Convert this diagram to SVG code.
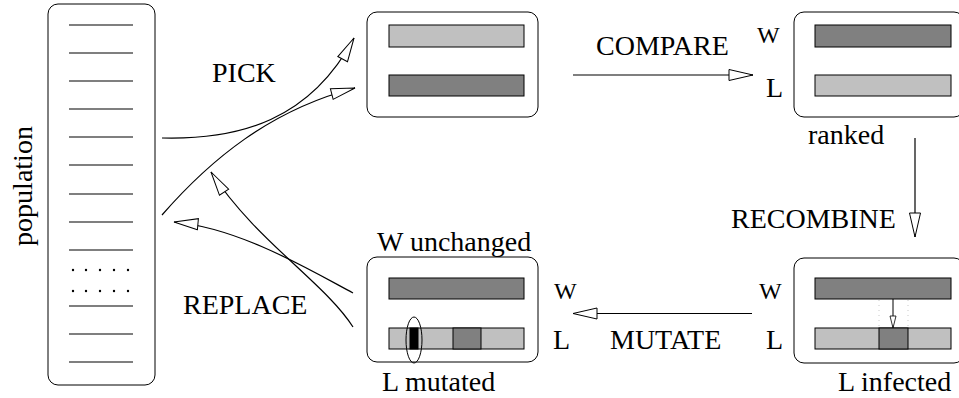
<svg xmlns="http://www.w3.org/2000/svg" width="959" height="398" viewBox="0 0 959 398" font-family="'Liberation Serif', Tinos, 'Times New Roman', 'DejaVu Serif', serif">
<style>
text{font-family:'Liberation Serif',Tinos,'Times New Roman','DejaVu Serif',serif;font-size:28px;fill:#000}
.sm{font-size:24px}
.box{fill:#fff;stroke:#000;stroke-width:1}
.lt{fill:#c0c0c0;stroke:#000;stroke-width:1}
.dk{fill:#808080;stroke:#000;stroke-width:1}
.bk{fill:#000;stroke:#000;stroke-width:1}
.ln{fill:none;stroke:#000;stroke-width:1.2}
.row{stroke:#000;stroke-width:1.2}
.dot{fill:#000}
</style>
<defs>
<marker id="ah" viewBox="0 0 26 13" refX="25" refY="6.5" markerWidth="26" markerHeight="13" orient="auto" markerUnits="userSpaceOnUse">
<path d="M1,1 L25,6.5 L1,12 Z" fill="#fff" stroke="#000" stroke-width="1"/>
</marker>
<marker id="ahs" viewBox="0 0 14 8" refX="13" refY="4" markerWidth="14" markerHeight="8" orient="auto" markerUnits="userSpaceOnUse">
<path d="M1,1 L13,4 L1,7 Z" fill="#fff" stroke="#000" stroke-width="0.8"/>
</marker>
</defs>

<g id="population">
<rect class="box" x="48" y="4" width="107" height="381" rx="10"/>
<g class="row">
<line x1="69" y1="25" x2="133" y2="25"/>
<line x1="69" y1="53" x2="133" y2="53"/>
<line x1="69" y1="81" x2="133" y2="81"/>
<line x1="69" y1="109" x2="133" y2="109"/>
<line x1="69" y1="137" x2="133" y2="137"/>
<line x1="69" y1="165" x2="133" y2="165"/>
<line x1="69" y1="194" x2="133" y2="194"/>
<line x1="69" y1="222" x2="133" y2="222"/>
<line x1="69" y1="250" x2="133" y2="250"/>
<line x1="69" y1="306" x2="133" y2="306"/>
<line x1="69" y1="334" x2="133" y2="334"/>
<line x1="69" y1="362" x2="133" y2="362"/>
</g>
<g class="dot">
<circle cx="73" cy="270" r="1.2"/><circle cx="86" cy="270" r="1.2"/><circle cx="100" cy="270" r="1.2"/><circle cx="114" cy="270" r="1.2"/><circle cx="128" cy="270" r="1.2"/>
<circle cx="73" cy="291" r="1.2"/><circle cx="86" cy="291" r="1.2"/><circle cx="100" cy="291" r="1.2"/><circle cx="114" cy="291" r="1.2"/><circle cx="128" cy="291" r="1.2"/>
</g>
<text transform="translate(32,186) rotate(-90)" text-anchor="middle">population</text>
</g>

<g id="picked">
<rect class="box" x="367" y="12" width="171" height="105" rx="10"/>
<rect class="lt" x="389" y="25" width="135" height="22"/>
<rect class="dk" x="389" y="75" width="135" height="21"/>
</g>

<g id="ranked">
<rect class="box" x="794" y="12" width="170" height="105" rx="10"/>
<rect class="dk" x="815" y="25" width="136" height="22"/>
<rect class="lt" x="815" y="75" width="136" height="21"/>
<text class="sm" x="757" y="43">W</text>
<text x="766" y="97">L</text>
<text x="808" y="144">ranked</text>
</g>

<g id="infected">
<rect class="box" x="794" y="258" width="170" height="105" rx="10"/>
<rect class="dk" x="815" y="278" width="136" height="21"/>
<rect class="lt" x="815" y="328" width="136" height="21"/>
<rect class="dk" x="879" y="328" width="29" height="21"/>
<line x1="879" y1="300" x2="879" y2="328" stroke="#bbb" stroke-width="0.8" stroke-dasharray="1,4"/>
<line x1="908" y1="300" x2="908" y2="328" stroke="#bbb" stroke-width="0.8" stroke-dasharray="1,4"/>
<line x1="893" y1="299" x2="893" y2="328" stroke="#000" stroke-width="1" marker-end="url(#ahs)"/>
<text class="sm" x="759" y="299">W</text>
<text x="766" y="349">L</text>
<text x="838" y="391">L infected</text>
</g>

<g id="mutated">
<rect class="box" x="367" y="257" width="171" height="105" rx="10"/>
<rect class="dk" x="389" y="278" width="135" height="21"/>
<rect class="lt" x="389" y="328" width="135" height="21"/>
<rect class="bk" x="410" y="328" width="8" height="21"/>
<rect class="dk" x="453" y="328" width="28" height="21"/>
<ellipse cx="414" cy="340" rx="8" ry="23" fill="none" stroke="#000" stroke-width="1"/>
<text x="377" y="251">W unchanged</text>
<text x="382" y="391">L mutated</text>
<text class="sm" x="554" y="299">W</text>
<text x="553" y="349">L</text>
</g>

<g id="connectors">
<path class="ln" d="M162,138 C240,140 310,120 354,38" marker-end="url(#ah)"/>
<path class="ln" d="M162,215 C210,160 270,110 355,88" marker-end="url(#ah)"/>
<line class="ln" x1="573" y1="75" x2="753" y2="75" marker-end="url(#ah)"/>
<line class="ln" x1="915" y1="138" x2="915" y2="237" marker-end="url(#ah)"/>
<line class="ln" x1="752" y1="313.5" x2="573" y2="313.5" marker-end="url(#ah)"/>
<path class="ln" d="M353,293 C310,270 240,228 174,222" marker-end="url(#ah)"/>
<path class="ln" d="M353,327 C325,283 255,240 211,172" marker-end="url(#ah)"/>
</g>

<g id="labels">
<text x="212" y="82">PICK</text>
<text x="596" y="55">COMPARE</text>
<text x="731" y="228">RECOMBINE</text>
<text x="610" y="349">MUTATE</text>
<text x="183" y="314">REPLACE</text>
</g>
</svg>
